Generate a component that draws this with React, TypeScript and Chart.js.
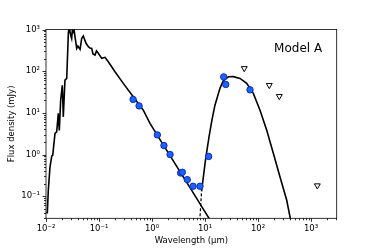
import React, { useEffect, useRef } from "react";
import { Chart, registerables } from "chart.js";

Chart.register(...registerables);

// Model curve: stellar photosphere (wavelength in micron, flux in mJy)
const starX = [0.0101, 0.0106, 0.01105, 0.01189, 0.01282, 0.01338, 0.01479, 0.01592, 0.01706, 0.01782, 0.0189, 0.0203, 0.0212, 0.0228, 0.0246, 0.0264, 0.0272, 0.0283, 0.0305, 0.0316, 0.0328, 0.0337, 0.0352, 0.038, 0.04, 0.0439, 0.0472, 0.0506, 0.0569, 0.0629, 0.0675, 0.0728, 0.077, 0.0841, 0.0896, 0.097, 0.1125, 0.1298, 0.1497, 0.2003, 0.287, 0.443, 0.685, 0.916, 2.0, 5.0, 10, 15];
const starY = [0.04, 0.04, 0.139, 0.5, 0.91, 0.96, 3.2, 3.5, 9.7, 3.8, 20, 46, 8, 61, 67, 811, 1100, 885, 614, 1050, 838, 1020, 671, 353, 400, 334, 614, 698, 466, 386, 360, 353, 258, 244, 305, 268, 203, 215, 168, 96.8, 50.9, 24.3, 11.6, 5.56, 1.13, 0.174, 0.042, 0.0185];

// Model curve: dust component
const dustX = [8.6, 10.2, 11.9, 13.5, 15.4, 19.2, 22.1, 27.5, 34.2, 45.7, 61.2, 81.5, 109, 146, 195, 260, 348, 402, 430];
const dustY = [0.13, 0.73, 2.65, 6.7, 15.3, 39.3, 58.8, 73.3, 74, 67.1, 50.9, 29.3, 11.6, 3.84, 1.06, 0.29, 0.08, 0.0316, 0.022];
const dashX = [7.95, 8.6];
const dashY = [0.025, 0.13];

// Photometry
const photX = [0.44, 0.57, 1.26, 1.68, 2.19, 3.47, 3.73, 4.63, 5.94, 8.05, 11.7, 22.5, 24.6, 70.6];
const photY = [21, 14.7, 2.96, 1.64, 1.0, 0.36, 0.375, 0.25, 0.173, 0.173, 0.9, 73, 48, 35.7];

// Upper limits
const ulX = [55, 163, 252, 1315];
const ulY = [117, 46, 25, 0.18];

const xMajor = [0.01, 0.1, 1, 10, 100, 1000];
const yMajor = [0.1, 1, 10, 100, 1000];
const X_MIN = 0.01, X_MAX = 3050, Y_MIN = 0.0295, Y_MAX = 1000;

const FONT = "'DejaVu Sans', sans-serif";
const SUP: Record<string, string> = { "-": "\u207B", "0": "\u2070", "1": "\u00B9", "2": "\u00B2", "3": "\u00B3", "4": "\u2074", "5": "\u2075", "6": "\u2076", "7": "\u2077", "8": "\u2078", "9": "\u2079" };
const powLabel = (v: number) => {
  const e = Math.round(Math.log10(v));
  return "10" + String(e).split("").map((c) => SUP[c]).join("");
};

const buildTicks = (majors: number[], min: number, max: number) => {
  const out: { value: number; major: boolean }[] = [];
  const e0 = Math.floor(Math.log10(min)) - 1;
  const e1 = Math.ceil(Math.log10(max)) + 1;
  for (let e = e0; e <= e1; e++) {
    for (let m = 1; m <= 9; m++) {
      const v = m * Math.pow(10, e);
      const vr = parseFloat(v.toPrecision(6));
      if (vr >= min * 0.9999 && vr <= max * 1.0001) {
        out.push({ value: vr, major: m === 1 && majors.some((t) => Math.abs(t - vr) / t < 1e-6) });
      }
    }
  }
  return out;
};

const toPts = (xs: number[], ys: number[]) => xs.map((x, i) => ({ x, y: ys[i] }));

const framePlugin = {
  id: "frame",
  afterDraw(chart: any) {
    const { ctx, chartArea: a } = chart;
    ctx.save();
    ctx.strokeStyle = "#000";
    ctx.lineWidth = 0.8;
    ctx.strokeRect(a.left, a.top, a.right - a.left, a.bottom - a.top);
    const xs = chart.scales.x, ys = chart.scales.y;
    ctx.beginPath();
    xs.ticks.forEach((t: any) => {
      const p = Math.round(xs.getPixelForValue(t.value)) + 0.5;
      const L = t.major ? 3.5 : 2;
      ctx.moveTo(p, a.bottom);
      ctx.lineTo(p, a.bottom + L);
    });
    ys.ticks.forEach((t: any) => {
      const p = Math.round(ys.getPixelForValue(t.value)) + 0.5;
      const L = t.major ? 3.5 : 2;
      ctx.moveTo(a.left, p);
      ctx.lineTo(a.left - L, p);
    });
    ctx.stroke();
    ctx.fillStyle = "#000";
    ctx.font = `12px ${FONT}`;
    ctx.textAlign = "right";
    ctx.textBaseline = "alphabetic";
    const w = a.right - a.left, h = a.bottom - a.top;
    ctx.fillText("Model A", a.left + 0.95 * w, a.bottom - 0.882 * h);
    ctx.restore();
  },
};

export default function App() {
  const ref = useRef<HTMLCanvasElement>(null);
  useEffect(() => {
    if (!ref.current) return;
    const lineCommon = { showLine: true, pointRadius: 0, borderColor: "#000", borderWidth: 1.6, fill: false, tension: 0, order: 2 };
    const chart = new Chart(ref.current, {
      type: "scatter",
      data: {
        datasets: [
          { ...lineCommon, label: "star", data: toPts(starX, starY) },
          { ...lineCommon, label: "dust", data: toPts(dustX, dustY) },
          { ...lineCommon, label: "dust-dash", data: toPts(dashX, dashY), borderDash: [3, 2], borderWidth: 1.2 },
          { label: "phot", data: toPts(photX, photY), pointRadius: 3.2, pointBackgroundColor: "rgb(25,100,255)", pointBorderColor: "rgb(10,40,200)", pointBorderWidth: 1, showLine: false, order: 0 },
          { label: "ul", data: toPts(ulX, ulY), pointStyle: "triangle", rotation: 180, pointRadius: 3.4, pointBackgroundColor: "#fff", pointBorderColor: "#000", pointBorderWidth: 1, showLine: false, order: 1 },
        ] as any,
      },
      options: {
        animation: false,
        responsive: false,
        events: [],
        layout: { padding: { top: 29.5, right: 37.3, left: 0, bottom: 0 } },
        plugins: { legend: { display: false }, tooltip: { enabled: false } },
        scales: {
          x: {
            type: "logarithmic",
            min: X_MIN,
            max: X_MAX,
            grid: { display: false, drawTicks: false },
            border: { display: false },
            afterBuildTicks: (s: any) => { s.ticks = buildTicks(xMajor, X_MIN, X_MAX); },
            afterFit: (s: any) => { s.height = 30.7; },
            ticks: {
              autoSkip: false,
              maxRotation: 0,
              padding: 5,
              color: "#000",
              font: { family: FONT, size: 8.5 },
              callback: (v: any, i: number, ticks: any[]) => (ticks[i] && ticks[i].major ? powLabel(Number(v)) : ""),
            },
            title: { display: true, text: "Wavelength (\u03BCm)", color: "#000", font: { family: FONT, size: 8.5 }, padding: { top: 0, bottom: 3 } },
          },
          y: {
            type: "logarithmic",
            min: Y_MIN,
            max: Y_MAX,
            grid: { display: false, drawTicks: false },
            border: { display: false },
            afterBuildTicks: (s: any) => { s.ticks = buildTicks(yMajor, Y_MIN, Y_MAX); },
            afterFit: (s: any) => { s.width = 46; },
            ticks: {
              autoSkip: false,
              padding: 6,
              color: "#000",
              font: { family: FONT, size: 8.5 },
              callback: (v: any, i: number, ticks: any[]) => (ticks[i] && ticks[i].major ? powLabel(Number(v)) : ""),
            },
            title: { display: true, text: "Flux density (mJy)", color: "#000", font: { family: FONT, size: 8.5 }, padding: { top: 7, bottom: 0 } },
          },
        },
      },
      plugins: [framePlugin],
    });
    return () => chart.destroy();
  }, []);
  return (
    <div style={{ position: "fixed", left: 0, top: 0, width: 374, height: 249, background: "#fff" }}>
      <canvas ref={ref} width={374} height={249} />
    </div>
  );
}
